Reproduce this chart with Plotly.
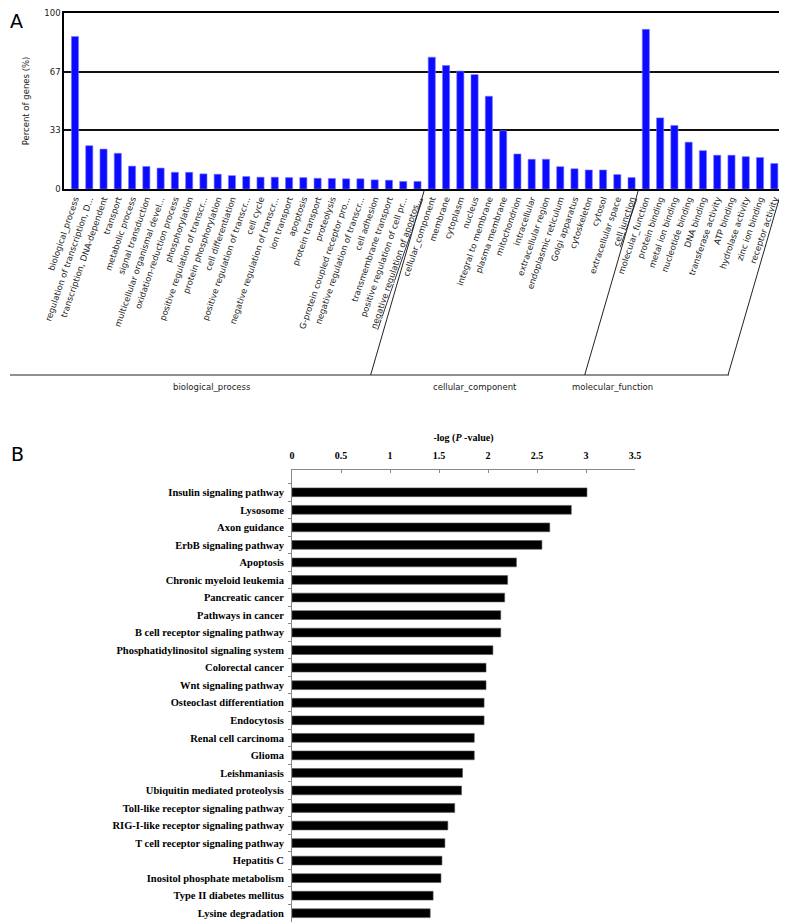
import plotly.graph_objects as go

# GO terms (panel A), percent of genes
bp_terms = [
    "biological_process", "regulation of transcription, D...", "transcription, DNA-dependent",
    "transport", "metabolic process", "signal transduction", "multicellular organismal devel...",
    "oxidation-reduction process", "phosphorylation", "positive regulation of transcr...",
    "protein phosphorylation", "cell differentiation", "positive regulation of transcr...",
    "cell cycle", "negative regulation of transcr...", "ion transport", "apoptosis",
    "protein transport", "proteolysis", "G-protein coupled receptor pro...",
    "negative regulation of transcr...", "cell adhesion", "transmembrane transport",
    "positive regulation of cell pr...", "<u>negative regulation of apoptos...</u>",
]
bp_values = [86.6, 24.6, 22.7, 20.3, 13.0, 12.8, 11.9, 9.5, 9.5, 8.6, 8.4, 7.6, 7.1,
             6.7, 6.7, 6.5, 6.5, 6.1, 6.0, 5.8, 5.8, 5.2, 5.0, 4.3, 4.3]

cc_terms = [
    "cellular_component", "membrane", "cytoplasm", "nucleus", "integral to membrane",
    "plasma membrane", "mitochondrion", "intracellular", "extracellular region",
    "endoplasmic reticulum", "Golgi apparatus", "cytoskeleton", "cytosol",
    "extracellular space", "<u>cell junction</u>",
]
cc_values = [74.9, 70.2, 67.0, 65.0, 52.7, 33.1, 19.9, 16.9, 16.9, 12.7, 11.5, 10.8, 10.8, 8.2, 6.5]

mf_terms = [
    "molecular_function", "protein binding", "metal ion binding", "nucleotide binding",
    "DNA binding", "transferase activity", "ATP binding", "hydrolase activity",
    "zinc ion binding", "receptor activity",
]
mf_values = [90.7, 40.4, 36.1, 26.6, 21.8, 19.2, 19.2, 18.4, 17.9, 14.5]

group_names = ["biological_process", "cellular_component", "molecular_function"]

# KEGG pathways (panel B), -log(P-value)
pathways = [
    "Insulin signaling pathway", "Lysosome", "Axon guidance", "ErbB signaling pathway",
    "Apoptosis", "Chronic myeloid leukemia", "Pancreatic cancer", "Pathways in cancer",
    "B cell receptor signaling pathway", "Phosphatidylinositol signaling system",
    "Colorectal cancer", "Wnt signaling pathway", "Osteoclast differentiation", "Endocytosis",
    "Renal cell carcinoma", "Glioma", "Leishmaniasis", "Ubiquitin mediated proteolysis",
    "Toll-like receptor signaling pathway", "RIG-I-like receptor signaling pathway",
    "T cell receptor signaling pathway", "Hepatitis C", "Inositol phosphate metabolism",
    "Type II diabetes mellitus", "Lysine degradation",
]
pathway_values = [3.01, 2.85, 2.63, 2.55, 2.29, 2.20, 2.17, 2.13, 2.13, 2.05, 1.98, 1.98,
                  1.96, 1.96, 1.86, 1.86, 1.74, 1.73, 1.66, 1.59, 1.56, 1.53, 1.52, 1.44, 1.41]

# page has an 8px body margin, so the figure is a bit smaller and positions are shifted
PAGE_W, PAGE_H, OFF = 787, 924, 8
W, H = PAGE_W - OFF, PAGE_H - OFF


def px(x):
    return (x - OFF) / W


def py(y):
    return 1 - (y - OFF) / H


go_terms = bp_terms + cc_terms + mf_terms
go_values = bp_values + cc_values + mf_values
positions = list(range(len(go_terms)))
x_lo, x_hi = -0.77, len(go_terms) - 0.46

sans = "DejaVu Sans"
serif = "Liberation Serif"

fig = go.Figure()
fig.add_trace(go.Bar(
    x=positions, y=go_values, width=0.5,
    marker=dict(color="#0b0bff", line=dict(color="#7a7aff", width=0.6)),
    xaxis="x", yaxis="y",
))
fig.add_trace(go.Bar(
    x=pathway_values, y=pathways, orientation="h", width=0.5,
    marker=dict(color="black", line=dict(color="#555", width=0.6)),
    xaxis="x2", yaxis="y2",
))

# group dividers for panel A (slanted lines below the axis)
bounds = [x_lo, len(bp_terms) - 0.5, len(bp_terms) + len(cc_terms) - 0.5, x_hi]
shapes = []
for b in bounds:
    shapes.append(dict(type="line", xref="x", yref="paper", xsizemode="pixel", xanchor=b,
                       x0=0, x1=-54, y0=py(189), y1=py(375),
                       line=dict(color="#222", width=1)))
shapes.append(dict(type="line", xref="paper", yref="paper", x0=px(10), x1=px(729),
                   y0=py(375), y1=py(375), line=dict(color="#222", width=1)))

annotations = [
    dict(text="A", x=0, y=1, xref="paper", yref="paper", xanchor="left",
         yanchor="top", showarrow=False, font=dict(family=sans, size=19, color="black")),
    dict(text="B", x=px(9), y=py(441), xref="paper", yref="paper", xanchor="left",
         yanchor="top", showarrow=False, font=dict(family=sans, size=19, color="black")),
]
for name, cx in zip(group_names, [171, 475, 655]):
    annotations.append(dict(text=name, x=px(cx), y=py(387), xref="paper", yref="paper",
                            showarrow=False, font=dict(family=sans, size=8.5, color="#222")))

fig.update_layout(
    width=W, height=H,
    margin=dict(l=0, r=0, t=0, b=0, autoexpand=False),
    paper_bgcolor="white", plot_bgcolor="white",
    showlegend=False,
    xaxis=dict(
        domain=[px(64), px(782)], anchor="y", range=[x_lo, x_hi], automargin=False,
        tickvals=positions, ticktext=go_terms, tickangle=-71,
        tickfont=dict(family=sans, size=8.5, color="#222"),
        showline=True, mirror=True, linecolor="black", linewidth=1.5,
        showgrid=False, zeroline=False, ticks="",
    ),
    yaxis=dict(
        domain=[py(189), py(13)], anchor="x", range=[0, 100], automargin=False,
        tickvals=[0, 100 / 3, 200 / 3, 100], ticktext=["0", "33", "67", "100"],
        tickfont=dict(family=sans, size=8.5, color="#222"), ticklabeloverflow="allow",
        title=dict(text="Percent of genes (%)", font=dict(family=sans, size=8.5, color="#222"),
                   standoff=13),
        showline=True, mirror=True, linecolor="black", linewidth=1.5,
        showgrid=True, gridcolor="#111", gridwidth=1.5, zeroline=False, ticks="",
    ),
    xaxis2=dict(
        domain=[px(292), px(635)], anchor="y2", side="top", range=[0, 3.5], dtick=0.5,
        automargin=False,
        tickfont=dict(family=serif, size=10, color="black", weight="bold"),
        title=dict(text="-log (<i>P</i> -value)",
                   font=dict(family=serif, size=10, color="black", weight="bold"), standoff=6),
        ticks="inside", ticklen=3, tickcolor="#888", ticklabelstandoff=6,
        showline=True, linecolor="#888", linewidth=1,
        showgrid=False, zeroline=False,
    ),
    yaxis2=dict(
        domain=[py(922), py(470)], anchor="x2", type="category", automargin=False,
        range=[len(pathways) - 0.5, -1.27],
        tickfont=dict(family=serif, size=10.5, color="black", weight="bold"),
        ticks="outside", tickson="boundaries", ticklen=3, tickcolor="#888",
        ticklabelstandoff=5,
        showline=True, linecolor="#888", linewidth=1,
        showgrid=False, zeroline=False,
    ),
    shapes=shapes,
    annotations=annotations,
)

fig.write_html("out.html")
